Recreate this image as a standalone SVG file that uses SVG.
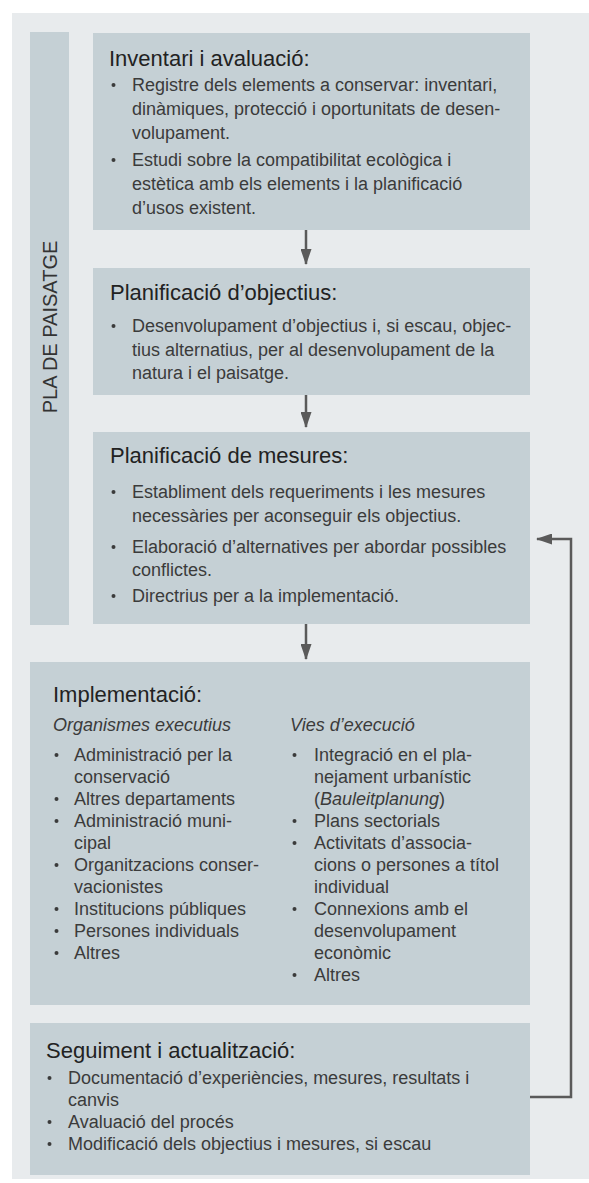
<svg xmlns="http://www.w3.org/2000/svg" width="589" height="1183" viewBox="0 0 589 1183">
<style>
.bg{fill:#e8ebed}
.box{fill:#c5d0d5}
.t{font-family:"Liberation Sans",Arial,sans-serif;font-size:22px;fill:#222}
.b{font-family:"Liberation Sans",Arial,sans-serif;font-size:18px;fill:#3b3b3b}
.i{font-style:italic}
.side{font-family:"Liberation Sans",Arial,sans-serif;font-size:20px;fill:#333;text-anchor:middle}
.dot{fill:#3b3b3b}
.con{fill:none;stroke:#5a5a5a;stroke-width:2.5}
</style>
<defs>
<marker id="ah" viewBox="0 0 16 11" refX="15" refY="5.5" markerWidth="16" markerHeight="11" markerUnits="userSpaceOnUse" orient="auto">
<path d="M0,0 L16,5.5 L0,11 z" fill="#5a5a5a"/>
</marker>
<circle id="d" r="2" class="dot"/>
</defs>
<rect class="bg" x="12" y="13" width="577" height="1166"/>

<g id="pla">
<rect class="box" x="30" y="32" width="39" height="593"/>
<text class="side" transform="translate(56.5,327) rotate(-90)">PLA DE PAISATGE</text>
</g>

<g id="inventari">
<rect class="box" x="93" y="33" width="437" height="197"/>
<text class="t" x="109" y="66">Inventari i avaluació:</text>
<use href="#d" x="113.5" y="85"/>
<text class="b" x="132" y="91">Registre dels elements a conservar: inventari,</text>
<text class="b" x="132" y="115">dinàmiques, protecció i oportunitats de desen-</text>
<text class="b" x="132" y="139">volupament.</text>
<use href="#d" x="113.5" y="160"/>
<text class="b" x="132" y="166">Estudi sobre la compatibilitat ecològica i</text>
<text class="b" x="132" y="190">estètica amb els elements i la planificació</text>
<text class="b" x="132" y="214">d’usos existent.</text>
</g>

<g id="objectius">
<rect class="box" x="93" y="268" width="437" height="127"/>
<text class="t" x="110" y="300">Planificació d’objectius:</text>
<use href="#d" x="113.5" y="326"/>
<text class="b" x="132" y="332">Desenvolupament d’objectius i, si escau, objec-</text>
<text class="b" x="132" y="356">tius alternatius, per al desenvolupament de la</text>
<text class="b" x="132" y="379">natura i el paisatge.</text>
</g>

<g id="mesures">
<rect class="box" x="93" y="432" width="437" height="192"/>
<text class="t" x="110" y="463">Planificació de mesures:</text>
<use href="#d" x="113.5" y="492"/>
<text class="b" x="132" y="498">Establiment dels requeriments i les mesures</text>
<text class="b" x="132" y="522">necessàries per aconseguir els objectius.</text>
<use href="#d" x="113.5" y="547"/>
<text class="b" x="132" y="553">Elaboració d’alternatives per abordar possibles</text>
<text class="b" x="132" y="576">conflictes.</text>
<use href="#d" x="113.5" y="596"/>
<text class="b" x="132" y="602">Directrius per a la implementació.</text>
</g>

<g id="implementacio">
<rect class="box" x="30" y="662" width="500" height="343"/>
<text class="t" x="53" y="702">Implementació:</text>
<text class="b i" x="53" y="731">Organismes executius</text>
<text class="b i" x="290" y="731">Vies d’execució</text>
<use href="#d" x="56.5" y="755"/>
<text class="b" x="74" y="761">Administració per la</text>
<text class="b" x="74" y="783">conservació</text>
<use href="#d" x="56.5" y="799"/>
<text class="b" x="74" y="805">Altres departaments</text>
<use href="#d" x="56.5" y="821"/>
<text class="b" x="74" y="827">Administració muni-</text>
<text class="b" x="74" y="849">cipal</text>
<use href="#d" x="56.5" y="865"/>
<text class="b" x="74" y="871">Organitzacions conser-</text>
<text class="b" x="74" y="893">vacionistes</text>
<use href="#d" x="56.5" y="909"/>
<text class="b" x="74" y="915">Institucions públiques</text>
<use href="#d" x="56.5" y="931"/>
<text class="b" x="74" y="937">Persones individuals</text>
<use href="#d" x="56.5" y="953"/>
<text class="b" x="74" y="959">Altres</text>

<use href="#d" x="294.5" y="755"/>
<text class="b" x="314" y="761">Integració en el pla-</text>
<text class="b" x="314" y="783">nejament urbanístic</text>
<text class="b" x="314" y="805">(<tspan class="i">Bauleitplanung</tspan>)</text>
<use href="#d" x="294.5" y="821"/>
<text class="b" x="314" y="827">Plans sectorials</text>
<use href="#d" x="294.5" y="843"/>
<text class="b" x="314" y="849">Activitats d’associa-</text>
<text class="b" x="314" y="871">cions o persones a títol</text>
<text class="b" x="314" y="893">individual</text>
<use href="#d" x="294.5" y="909"/>
<text class="b" x="314" y="915">Connexions amb el</text>
<text class="b" x="314" y="937">desenvolupament</text>
<text class="b" x="314" y="959">econòmic</text>
<use href="#d" x="294.5" y="975"/>
<text class="b" x="314" y="981">Altres</text>
</g>

<g id="seguiment">
<rect class="box" x="30" y="1023" width="500" height="152"/>
<text class="t" x="46" y="1058">Seguiment i actualització:</text>
<use href="#d" x="49.5" y="1078"/>
<text class="b" x="68" y="1084">Documentació d’experiències, mesures, resultats i</text>
<text class="b" x="68" y="1106">canvis</text>
<use href="#d" x="49.5" y="1122"/>
<text class="b" x="68" y="1128">Avaluació del procés</text>
<use href="#d" x="49.5" y="1144"/>
<text class="b" x="68" y="1150">Modificació dels objectius i mesures, si escau</text>
</g>

<g id="connectors">
<path class="con" d="M306,230 V264" marker-end="url(#ah)"/>
<path class="con" d="M306,395 V427" marker-end="url(#ah)"/>
<path class="con" d="M306,624 V659" marker-end="url(#ah)"/>
<path class="con" d="M530,1097 H571 V539 H537" marker-end="url(#ah)"/>
</g>
</svg>
